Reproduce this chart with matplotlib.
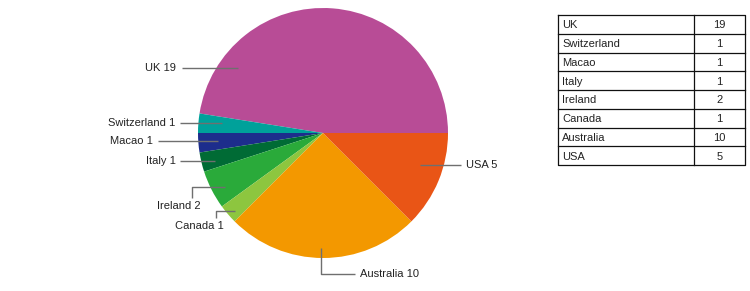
import matplotlib
matplotlib.use("Agg")
import matplotlib.pyplot as plt
import numpy as np

countries = ["UK", "Switzerland", "Macao", "Italy", "Ireland", "Canada", "Australia", "USA"]
counts = [19, 1, 1, 1, 2, 1, 10, 5]
colors = ["#B84C96", "#00A19A", "#1D2D8C", "#006B35", "#2AAA3A", "#8DC63F", "#F39800", "#E95516"]

# label layout in pixel coords (x, y from top): leader points, text position, alignment
label_layout = {
    "UK":          dict(pts=[(238, 68), (182, 68)], text=(176, 68), ha="right"),
    "Switzerland": dict(pts=[(222, 123), (180, 123)], text=(175, 123), ha="right"),
    "Macao":       dict(pts=[(218, 141), (158, 141)], text=(153, 141), ha="right"),
    "Italy":       dict(pts=[(215, 161), (180, 161)], text=(176, 161), ha="right"),
    "Ireland":     dict(pts=[(225, 187), (192, 187), (192, 198)], text=(179, 206), ha="center"),
    "Canada":      dict(pts=[(235, 211), (216, 211), (216, 218)], text=(199, 226), ha="center"),
    "Australia":   dict(pts=[(321, 248), (321, 274), (355, 274)], text=(360, 274), ha="left"),
    "USA":         dict(pts=[(420, 165), (461, 165)], text=(466, 165), ha="left"),
}

W, H = 750, 291
fig = plt.figure(figsize=(W / 100, H / 100), dpi=100)
ax = fig.add_axes([0, 0, 1, 1])

cx, cy, r = 323, H - 133, 125
ax.pie(counts, colors=colors, startangle=0, counterclock=True,
       center=(cx, cy), radius=r, frame=True,
       wedgeprops=dict(linewidth=0))
ax.set_xlim(0, W)
ax.set_ylim(0, H)
ax.set_aspect("equal")
ax.axis("off")

font = "Liberation Sans"
for c, v in zip(countries, counts):
    lay = label_layout[c]
    xs = [p[0] for p in lay["pts"]]
    ys = [H - p[1] for p in lay["pts"]]
    ax.plot(xs, ys, color="#6f6f6f", lw=1.0, solid_capstyle="butt")
    tx, ty = lay["text"]
    ax.text(tx, H - ty, f"{c} {v}", ha=lay["ha"], va="center",
            fontsize=8, family=font, color="#222222")

# table drawn manually
tx0, ty0, tw, th = 558, 15, 187, 150
col_split = 694
n = len(countries)
rh = th / n
lc = "#111111"
ax.plot([tx0, tx0 + tw, tx0 + tw, tx0, tx0], [H - ty0, H - ty0, H - ty0 - th, H - ty0 - th, H - ty0],
        color=lc, lw=0.9)
ax.plot([col_split, col_split], [H - ty0, H - ty0 - th], color=lc, lw=0.9)
for i in range(1, n):
    y = H - (ty0 + i * rh)
    ax.plot([tx0, tx0 + tw], [y, y], color=lc, lw=0.9)
for i, (c, v) in enumerate(zip(countries, counts)):
    yc = H - (ty0 + (i + 0.55) * rh)
    ax.text(tx0 + 4, yc, c, ha="left", va="center", fontsize=8, family=font, color="#222222")
    ax.text((col_split + tx0 + tw) / 2, yc, str(v), ha="center", va="center",
            fontsize=8, family=font, color="#222222")

fig.savefig("out.png", dpi=100)
